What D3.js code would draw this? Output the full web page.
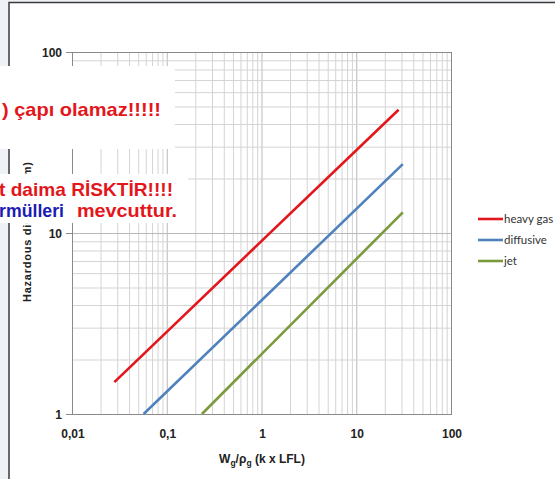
<!DOCTYPE html>
<html>
<head>
<meta charset="utf-8">
<script src="https://cdn.jsdelivr.net/npm/d3@7"></script>
<style>
  body { margin: 0; background: #fff; }
  svg { display: block; }
</style>
</head>
<body>
<script>
// chart values
const seriesNames = ["heavy gas", "diffusive", "jet"];
const heavyGas = [[0.028, 1.5], [28, 48]];
const diffusive = [[0.057, 1], [31, 24]];
const jet = [[0.235, 1], [31, 13]];
const xTickValues = [0.01, 0.1, 1, 10, 100];
const xTickLabels = ["0,01", "0,1", "1", "10", "100"];
const yTickValues = [1, 10, 100];
const yTickLabels = ["1", "10", "100"];
const colors = ["#e3161c", "#4f81bd", "#7b9a3c"];

const width = 555, height = 479;
const plot = { left: 72, right: 451, top: 52, bottom: 414 };

const svg = d3.select("body").append("svg")
  .attr("width", width)
  .attr("height", height);

// slide background and frame
svg.append("rect").attr("width", width).attr("height", height).attr("fill", "#eef1f5");
svg.append("rect").attr("x", 9).attr("y", 2.5).attr("width", width).attr("height", height)
  .attr("fill", "#fff");
svg.append("path").attr("d", `M9,${height}V2.5H${width}`)
  .attr("fill", "none").attr("stroke", "#3a3a3a").attr("stroke-width", 1.5);

// scales
const x = d3.scaleLog().domain([0.01, 100]).range([plot.left, plot.right]);
const y = d3.scaleLog().domain([1, 100]).range([plot.bottom, plot.top]);

// grid
const grid = svg.append("g");
grid.selectAll(".vx").data(x.ticks()).join("line")
  .attr("x1", d => x(d) + 0.5).attr("x2", d => x(d) + 0.5)
  .attr("y1", plot.top).attr("y2", plot.bottom)
  .attr("stroke", d => xTickValues.includes(d) ? "#b9b9b9" : "#d4d4d4");
grid.selectAll(".hy").data(y.ticks()).join("line")
  .attr("y1", d => y(d) + 0.5).attr("y2", d => y(d) + 0.5)
  .attr("x1", plot.left).attr("x2", plot.right)
  .attr("stroke", d => yTickValues.includes(d) ? "#b9b9b9" : "#d4d4d4");

svg.append("rect")
  .attr("x", plot.left + 0.5).attr("y", plot.top + 0.5)
  .attr("width", plot.right - plot.left).attr("height", plot.bottom - plot.top)
  .attr("fill", "none").attr("stroke", "#8a8a8a");

// y ticks
svg.selectAll(".ytick").data(yTickValues).join("line")
  .attr("x1", plot.left - 6).attr("x2", plot.left)
  .attr("y1", d => y(d) + 0.5).attr("y2", d => y(d) + 0.5)
  .attr("stroke", "#8a8a8a");

const tickFont = "'Liberation Sans', Arial, sans-serif";
svg.selectAll(".ylab").data(yTickValues).join("text")
  .attr("x", plot.left - 10).attr("y", d => y(d) + 4.5)
  .attr("text-anchor", "end")
  .attr("font-family", tickFont).attr("font-weight", "bold").attr("font-size", 12)
  .attr("fill", "#222")
  .text((d, i) => yTickLabels[i]);

svg.selectAll(".xlab").data(xTickValues).join("text")
  .attr("x", d => x(d) + 1).attr("y", plot.bottom + 24)
  .attr("text-anchor", "middle")
  .attr("font-family", tickFont).attr("font-weight", "bold").attr("font-size", 12)
  .attr("fill", "#222")
  .text((d, i) => xTickLabels[i]);

// axis titles
const xt = svg.append("text")
  .attr("x", 262).attr("y", 463)
  .attr("text-anchor", "middle")
  .attr("font-family", tickFont).attr("font-weight", "bold").attr("font-size", 12)
  .attr("fill", "#222");
xt.append("tspan").text("W");
xt.append("tspan").attr("font-size", 8.5).attr("dy", 3).text("g");
xt.append("tspan").attr("dy", -3).text("/ρ");
xt.append("tspan").attr("font-size", 8.5).attr("dy", 3).text("g");
xt.append("tspan").attr("dy", -3).text(" (k x LFL)");

svg.append("text")
  .attr("transform", "translate(31,302) rotate(-90)")
  .attr("font-family", tickFont).attr("font-weight", "bold").attr("font-size", 11)
  .attr("fill", "#222")
  .attr("textLength", 140)
  .text("Hazardous distance (m)");

// lines
const line = d3.line().x(d => x(d[0])).y(d => y(d[1]));
const allSeries = [heavyGas, diffusive, jet];
svg.selectAll(".series").data(allSeries).join("path")
  .attr("d", line)
  .attr("fill", "none")
  .attr("stroke", (d, i) => colors[i])
  .attr("stroke-width", 2.6);

// legend
const legend = svg.append("g").attr("transform", "translate(478,219)");
seriesNames.forEach((name, i) => {
  legend.append("line")
    .attr("x1", 0).attr("x2", 25)
    .attr("y1", i * 21).attr("y2", i * 21)
    .attr("stroke", colors[i]).attr("stroke-width", 2.6);
  legend.append("text")
    .attr("x", 26).attr("y", i * 21 + 4)
    .attr("font-family", "Lato, 'Open Sans', sans-serif").attr("font-size", 11.5)
    .attr("fill", "#333")
    .text(name);
});

// white note boxes pasted on top
const noteFont = "'Liberation Sans', Arial, sans-serif";
function note(txt, x0, y0, len, color) {
  svg.append("text")
    .attr("x", x0).attr("y", y0)
    .attr("font-family", noteFont).attr("font-weight", "bold").attr("font-size", 19)
    .attr("fill", color)
    .attr("textLength", len).attr("lengthAdjust", "spacingAndGlyphs")
    .text(txt);
}
svg.append("rect").attr("x", 0).attr("y", 66).attr("width", 175).attr("height", 83).attr("fill", "#fff");
note(") çapı olamaz!!!!!", 2, 116, 159, "#e3161c");

svg.append("rect").attr("x", 0).attr("y", 174).attr("width", 188).attr("height", 49).attr("fill", "#fff");
note("t daima RİSKTİR!!!!", -1, 196, 174, "#e3161c");
note("rmülleri", -1, 217, 65, "#1c1cb4");
note("mevcuttur.", 77, 217, 100, "#e3161c");
</script>
</body>
</html>
